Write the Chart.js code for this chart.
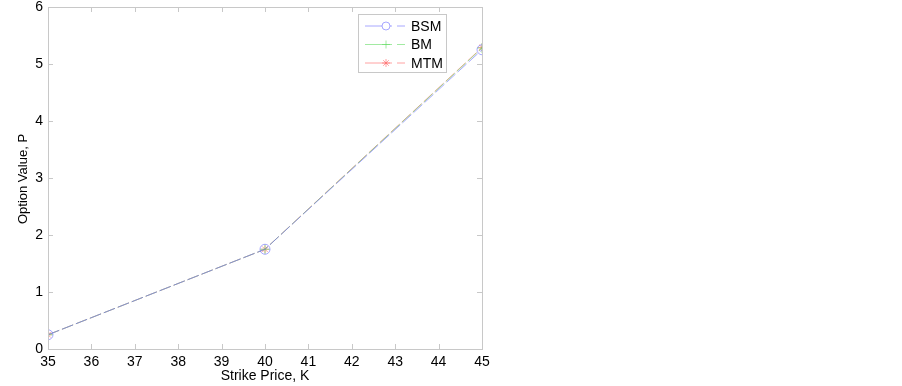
<!DOCTYPE html>
<html><head><meta charset="utf-8">
<script src="https://cdn.jsdelivr.net/npm/chart.js@4.4.1/dist/chart.umd.min.js"></script>
<style>html,body{margin:0;padding:0;background:#fff}#wrap{width:902px;height:386px}</style>
</head><body><div id="wrap"><canvas id="c" width="902" height="386"></canvas></div>
<script>
const strikes = [35, 40, 45];
const bsm = [0.25, 1.75, 5.25];
const bm = [0.25, 1.75, 5.28];
const mtm = [0.25, 1.75, 5.29];
const xTicks = [35,36,37,38,39,40,41,42,43,44,45];
const yTicks = [0,1,2,3,4,5,6];
const seriesNames = ['BSM','BM','MTM'];
const colors = ['rgba(110,110,255,0.6)','rgba(100,220,100,0.6)','rgba(255,100,100,0.6)'];
const styles = ['circle','cross','star'];
const radii = [5,5,4];
const allSeries = [bsm, bm, mtm];

const font = 'Liberation Sans, Arial, sans-serif';
const axisColor = '#c8c8c8';

const frame = {
  id:'frame',
  afterDraw(chart){
    const {ctx, chartArea:a, scales:{x,y}} = chart;
    ctx.save();
    ctx.strokeStyle = axisColor; ctx.lineWidth = 1;
    ctx.strokeRect(Math.round(a.left)+0.5, Math.round(a.top)+0.5, Math.round(a.right-a.left), Math.round(a.bottom-a.top));
    ctx.beginPath();
    xTicks.forEach(v=>{const px=Math.round(x.getPixelForValue(v))+0.5;
      ctx.moveTo(px,a.bottom); ctx.lineTo(px,a.bottom-5);
      ctx.moveTo(px,a.top); ctx.lineTo(px,a.top+5);});
    yTicks.forEach(v=>{const py=Math.round(y.getPixelForValue(v))+0.5;
      ctx.moveTo(a.left,py); ctx.lineTo(a.left+5,py);
      ctx.moveTo(a.right,py); ctx.lineTo(a.right-5,py);});
    ctx.stroke();
    ctx.fillStyle = '#000';
    ctx.font = '14px ' + font;
    ctx.textBaseline='middle';
    ctx.textAlign='center';
    xTicks.forEach(v=>ctx.fillText(String(v), x.getPixelForValue(v), a.bottom+13));
    ctx.textAlign='right';
    yTicks.forEach(v=>ctx.fillText(String(v), a.left-5, y.getPixelForValue(v)));
    ctx.font = '14px ' + font;
    ctx.textAlign='center';
    ctx.fillText('Strike Price, K', (a.left+a.right)/2, 376);
    ctx.font = '13px ' + font;
    ctx.save(); ctx.translate(23,179); ctx.rotate(-Math.PI/2);
    ctx.fillText('Option Value, P',0,0); ctx.restore();
    const lx=358, ly=14, lw=88, lh=58;
    ctx.fillStyle='#fff'; ctx.fillRect(lx,ly,lw,lh);
    ctx.strokeStyle=axisColor; ctx.strokeRect(lx+0.5,ly+0.5,lw,lh);
    seriesNames.forEach((n,i)=>{
      const yy = 26 + i*18.5;
      ctx.strokeStyle=colors[i]; ctx.lineWidth=1;
      ctx.setLineDash([]);
      ctx.beginPath(); ctx.moveTo(365,yy); ctx.lineTo(392,yy); ctx.moveTo(397,yy); ctx.lineTo(405,yy); ctx.stroke();
      Chart.helpers.drawPoint(ctx,{pointStyle:styles[i],radius:4,borderWidth:1},386,yy);
      ctx.fillStyle='#000'; ctx.font='14px '+font; ctx.textAlign='left';
      ctx.fillText(n,411,yy+1);
    });
    ctx.restore();
  }
};

new Chart(document.getElementById('c'),{
  type:'line',
  data:{datasets: allSeries.map((s,i)=>({
    label: seriesNames[i],
    data: strikes.map((k,j)=>({x:k,y:s[j]})),
    borderColor: colors[i], backgroundColor:'rgba(0,0,0,0)',
    borderWidth:1, borderDash:[12,3],
    pointStyle: styles[i], pointRadius: radii[i], pointBorderColor: colors[i],
    pointBackgroundColor:'rgba(0,0,0,0)', pointBorderWidth:1, tension:0
  }))},
  options:{
    responsive:false, animation:false, devicePixelRatio:1,
    layout:{padding:{left:48,right:420,top:7,bottom:37}},
    plugins:{legend:{display:false},tooltip:{enabled:false}},
    scales:{
      x:{type:'linear',min:35,max:45,display:false},
      y:{type:'linear',min:0,max:6,display:false}
    }
  },
  plugins:[frame]
});
</script></body></html>
